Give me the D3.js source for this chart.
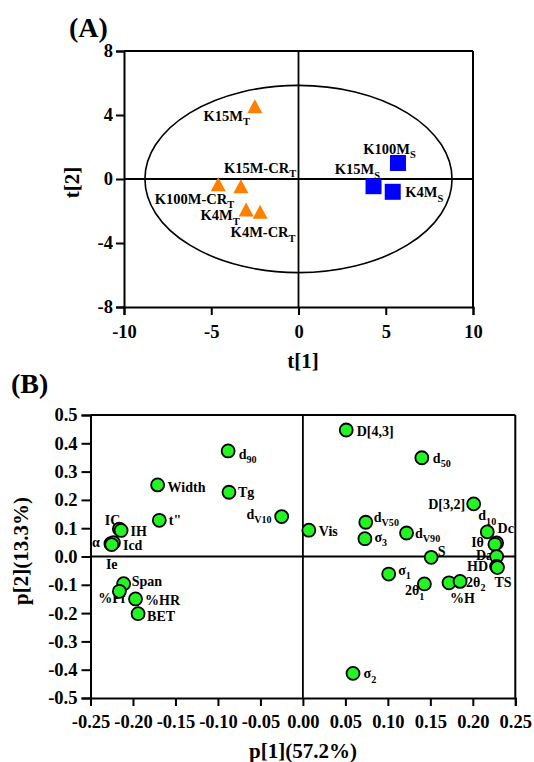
<!DOCTYPE html>
<html>
<head>
<meta charset="utf-8">
<script src="https://cdn.jsdelivr.net/npm/d3@7"></script>
<style>
  html, body { margin: 0; padding: 0; background: #fff; }
  svg { display: block; }
  text { font-family: "Liberation Serif", "Times New Roman", serif; font-weight: bold; fill: #000; }
</style>
</head>
<body>
<svg id="chart" width="534" height="762"></svg>
<script>
// ---------------- Panel A data (scores) ----------------
const scoreLabels = ["K15M_T", "K15M-CR_T", "K100M-CR_T", "K4M_T", "K4M-CR_T", "K100M_S", "K15M_S", "K4M_S"];
const scoreT1     = [-2.5, -3.3, -4.6, -3.0, -2.2, 5.7, 4.3, 5.4];
const scoreT2     = [4.55, -0.45, -0.33, -1.9, -2.05, 1.0, -0.45, -0.8];
const scoreGroup  = ["T", "T", "T", "T", "T", "S", "S", "S"];
const ticksT1 = [-10, -5, 0, 5, 10];
const ticksT2 = [-8, -4, 0, 4, 8];
const ellipseRadii = [8.8, 5.85];

// ---------------- Panel B data (loadings) ----------------
const loadingLabels = ["d_90", "Width", "Tg", "d_V10", "t\"", "IC", "IH", "α", "Icd", "Ie",
  "Span", "%Pf", "%HR", "BET", "Vis", "D[4,3]", "d_50", "D[3,2]", "d_V50", "σ_3", "d_V90",
  "d_10", "Dc", "Iθ", "Da", "HD", "TS", "S", "σ_1", "2θ_1", "%H", "2θ_2", "σ_2"];
const loadingP1 = [-0.088, -0.171, -0.087, -0.025, -0.169, -0.216, -0.214, -0.226, -0.223, -0.225,
  -0.211, -0.216, -0.197, -0.194, 0.007, 0.051, 0.140, 0.201, 0.074, 0.073, 0.122,
  0.217, 0.228, 0.226, 0.228, 0.228, 0.229, 0.151, 0.101, 0.143, 0.172, 0.185, 0.059];
const loadingP2 = [0.373, 0.253, 0.227, 0.141, 0.128, 0.097, 0.092, 0.045, 0.049, 0.042,
  -0.096, -0.123, -0.150, -0.202, 0.093, 0.447, 0.349, 0.186, 0.121, 0.063, 0.083,
  0.087, 0.048, 0.043, 0.000, -0.035, -0.039, -0.003, -0.062, -0.097, -0.093, -0.088, -0.413];
const ticksP1 = [-0.25, -0.20, -0.15, -0.10, -0.05, 0.00, 0.05, 0.10, 0.15, 0.20, 0.25];
const ticksP2 = [-0.5, -0.4, -0.3, -0.2, -0.1, 0.0, 0.1, 0.2, 0.3, 0.4, 0.5];

// ---------------- label placement (layout only) ----------------
const placeA = {
  "K15M_T": [-5, 14.5, "end"], "K15M-CR_T": [-17, -13.5, "start"], "K100M-CR_T": [16, 19.5, "end"],
  "K4M_T": [-6.5, 11, "end"], "K4M-CR_T": [-29.5, 25.5, "start"], "K100M_S": [-8.5, -9.5, "middle"],
  "K15M_S": [6.5, -12, "end"], "K4M_S": [12.5, 5.5, "start"]
};
const placeB = {
  "d_90": [10.5, 8, "start"], "Width": [10, 7.5, "start"], "Tg": [9, 5, "start"], "d_V10": [-10, 2, "end"],
  "t\"": [9.5, 5, "start"], "IC": [1, -4, "end"], "IH": [9.5, 6, "start"], "α": [-11, 3.5, "end"],
  "Icd": [9.5, 7.5, "start"], "Ie": [0, 24.5, "middle"], "Span": [8, 2.5, "start"], "%Pf": [6, 12, "end"],
  "%HR": [9.5, 6, "start"], "BET": [9, 7, "start"], "Vis": [10, 6, "start"], "D[4,3]": [10.5, 6.5, "start"],
  "d_50": [11, 5, "start"], "D[3,2]": [-8.5, 5.5, "end"], "d_V50": [8, 0, "start"], "σ_3": [9.5, 3, "start"],
  "d_V90": [8.5, 5, "start"], "d_10": [0, -11.5, "middle"], "Dc": [1, -10, "start"], "Iθ": [-11, 2.5, "end"],
  "Da": [-3.5, 3, "end"], "HD": [-8.5, 5, "end"], "TS": [5.5, 19.5, "middle"], "S": [6.5, -1.5, "start"],
  "σ_1": [9.5, 1, "start"], "2θ_1": [0, 11.5, "end"], "%H": [1, 20.5, "start"], "2θ_2": [6, 5.5, "start"],
  "σ_2": [10.5, 5, "start"]
};

const svg = d3.select("#chart");
const serif = "'Liberation Serif', 'Times New Roman', serif";

function addLabel(g, str, x, y, anchor, size) {
  const parts = str.split("_");
  const t = g.append("text")
    .attr("x", x).attr("y", y)
    .attr("text-anchor", anchor)
    .style("font-size", size + "px");
  t.append("tspan").text(parts[0]);
  if (parts.length > 1) {
    t.append("tspan").text(parts[1])
      .style("font-size", (size * 0.72) + "px")
      .attr("dy", size * 0.3);
  }
  return t;
}

function styleAxis(g, fontSize) {
  g.select(".domain").attr("stroke", "#000").attr("stroke-width", 2);
  g.selectAll(".tick line").attr("stroke", "#000").attr("stroke-width", 2);
  g.selectAll(".tick text")
    .style("font-family", serif).style("font-weight", "bold")
    .style("font-size", fontSize + "px").attr("fill", "#000");
}

// =============== Panel A ===============
const xA = d3.scaleLinear().domain([-10, 10]).range([124, 473]);
const yA = d3.scaleLinear().domain([-8, 8]).range([307, 51]);
const gA = svg.append("g");

gA.append("line").attr("x1", xA(-10)).attr("x2", xA(10)).attr("y1", yA(8)).attr("y2", yA(8))
  .attr("stroke", "#000").attr("stroke-width", 2);
gA.append("line").attr("x1", xA(10)).attr("x2", xA(10)).attr("y1", yA(8)).attr("y2", yA(-8))
  .attr("stroke", "#000").attr("stroke-width", 2);
gA.append("line").attr("x1", xA(-10)).attr("x2", xA(10)).attr("y1", yA(0)).attr("y2", yA(0))
  .attr("stroke", "#000").attr("stroke-width", 1.8);
gA.append("line").attr("x1", xA(0)).attr("x2", xA(0)).attr("y1", yA(8)).attr("y2", yA(-8))
  .attr("stroke", "#000").attr("stroke-width", 1.8);
gA.append("ellipse")
  .attr("cx", xA(0)).attr("cy", yA(0))
  .attr("rx", xA(ellipseRadii[0]) - xA(0))
  .attr("ry", yA(0) - yA(ellipseRadii[1]))
  .attr("fill", "none").attr("stroke", "#000").attr("stroke-width", 1.6);

const axA_x = gA.append("g").attr("transform", `translate(0,${yA(-8)})`)
  .call(d3.axisBottom(xA).tickValues(ticksT1).tickSize(8).tickPadding(10).tickFormat(d => String(d)));
styleAxis(axA_x, 18.5);
const axA_y = gA.append("g").attr("transform", `translate(${xA(-10)},0)`)
  .call(d3.axisLeft(yA).tickValues(ticksT2).tickSize(8).tickPadding(3).tickFormat(d => String(d)));
styleAxis(axA_y, 18.5);

scoreLabels.forEach((lab, i) => {
  const cx = xA(scoreT1[i]), cy = yA(scoreT2[i]);
  if (scoreGroup[i] === "T") {
    const w = 15, h = 14;
    gA.append("path")
      .attr("d", `M${cx},${cy - h / 2} L${cx + w / 2},${cy + h / 2} L${cx - w / 2},${cy + h / 2} Z`)
      .attr("fill", "#ff8000");
  } else {
    const s = 16;
    gA.append("rect").attr("x", cx - s / 2).attr("y", cy - s / 2).attr("width", s).attr("height", s)
      .attr("fill", "#0000ff");
  }
  const p = placeA[lab];
  addLabel(gA, lab, cx + p[0], cy + p[1], p[2], 14.5);
});

gA.append("text").attr("x", 69).attr("y", 37).style("font-size", "28px").text("(A)");
gA.append("text").attr("x", 303).attr("y", 368).attr("text-anchor", "middle").style("font-size", "21px").text("t[1]");
gA.append("text").attr("transform", `translate(79,182.5) rotate(-90)`).attr("text-anchor", "middle")
  .style("font-size", "21px").text("t[2]");

// =============== Panel B ===============
const xB = d3.scaleLinear().domain([-0.25, 0.25]).range([90.5, 515.3]);
const yB = d3.scaleLinear().domain([-0.5, 0.5]).range([698, 415]);
const gB = svg.append("g");

gB.append("line").attr("x1", xB(-0.25)).attr("x2", xB(0.25)).attr("y1", yB(0.5)).attr("y2", yB(0.5))
  .attr("stroke", "#000").attr("stroke-width", 2);
gB.append("line").attr("x1", xB(0.25)).attr("x2", xB(0.25)).attr("y1", yB(0.5)).attr("y2", yB(-0.5))
  .attr("stroke", "#000").attr("stroke-width", 2);
gB.append("line").attr("x1", xB(-0.25)).attr("x2", xB(0.25)).attr("y1", yB(0)).attr("y2", yB(0))
  .attr("stroke", "#000").attr("stroke-width", 1.8);
gB.append("line").attr("x1", xB(0)).attr("x2", xB(0)).attr("y1", yB(0.5)).attr("y2", yB(-0.5))
  .attr("stroke", "#000").attr("stroke-width", 1.8);

const axB_x = gB.append("g").attr("transform", `translate(0,${yB(-0.5)})`)
  .call(d3.axisBottom(xB).tickValues(ticksP1).tickSize(8).tickPadding(9).tickFormat(d => d.toFixed(2)));
styleAxis(axB_x, 18.5);
const axB_y = gB.append("g").attr("transform", `translate(${xB(-0.25)},0)`)
  .call(d3.axisLeft(yB).tickValues(ticksP2).tickSize(9).tickPadding(4).tickFormat(d => d.toFixed(1)));
styleAxis(axB_y, 18.5);

loadingLabels.forEach((lab, i) => {
  const p = placeB[lab];
  addLabel(gB, lab, xB(loadingP1[i]) + p[0], yB(loadingP2[i]) + p[1], p[2], 14);
});
gB.selectAll("circle.ld").data(loadingLabels).enter().append("circle")
  .attr("class", "ld")
  .attr("cx", (d, i) => xB(loadingP1[i]))
  .attr("cy", (d, i) => yB(loadingP2[i]))
  .attr("r", 6.5)
  .attr("fill", "#22f522").attr("stroke", "#000").attr("stroke-width", 1.8);

gB.append("text").attr("x", 11).attr("y", 393).style("font-size", "28px").text("(B)");
gB.append("text").attr("x", 303).attr("y", 758).attr("text-anchor", "middle").style("font-size", "21px").text("p[1](57.2%)");
gB.append("text").attr("transform", `translate(28,551) rotate(-90)`).attr("text-anchor", "middle")
  .style("font-size", "21px").text("p[2](13.3%)");
</script>
</body>
</html>
